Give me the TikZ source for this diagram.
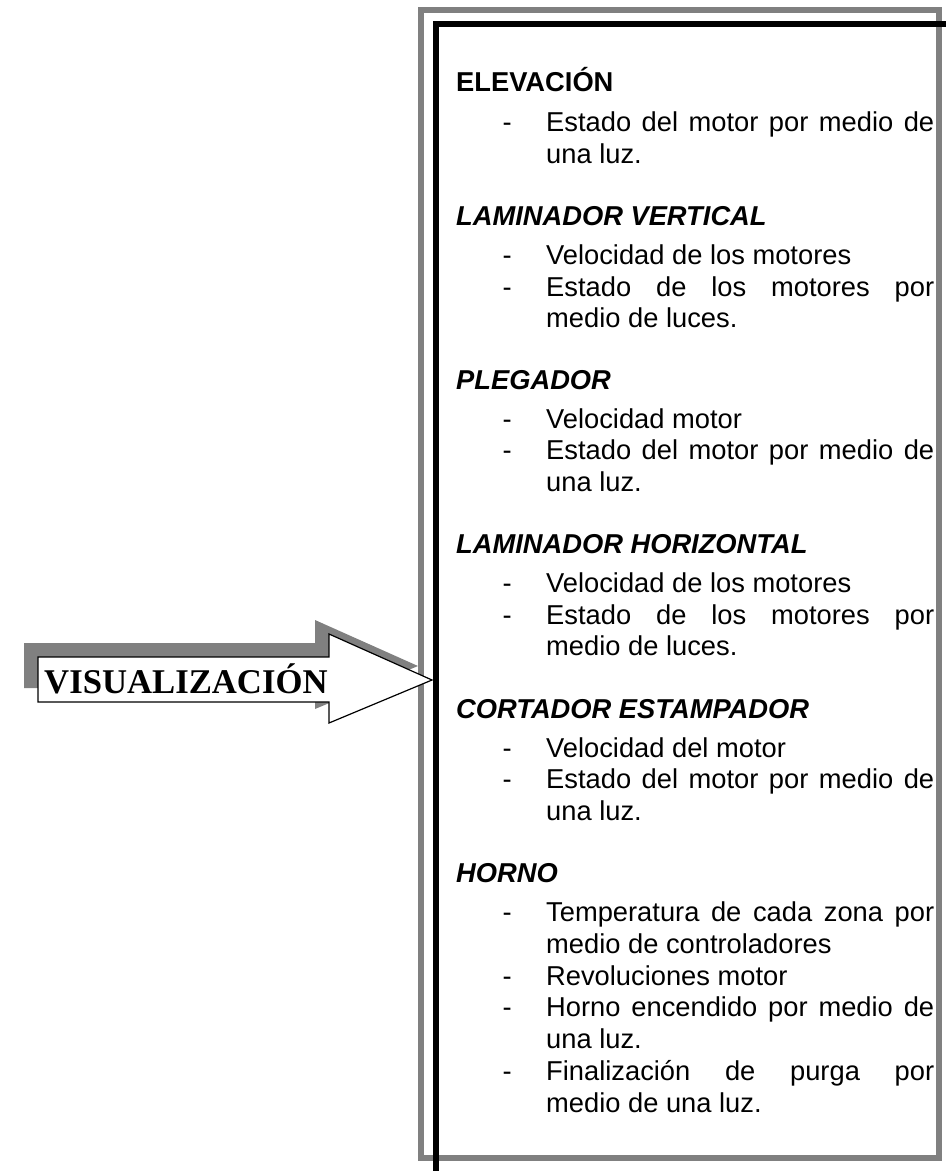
\documentclass[tikz,border=0pt]{standalone}
\usepackage{fontspec}
\setmainfont{Liberation Sans}
\newfontfamily\visfont{Liberation Serif}
\usetikzlibrary{positioning}

\tikzset{
  title/.style={anchor=base west, inner sep=0pt, font=\fontsize{27.3}{31.7}\selectfont\bfseries\itshape},
  txt/.style={anchor=base west, inner sep=0pt, font=\fontsize{27.3}{31.7}\selectfont},
  bullet/.style={txt, left=34pt of #1.base west, anchor=base east},
}
\newcommand{\justline}[1]{\makebox[388pt][s]{#1}}

\begin{document}
\begin{tikzpicture}[x=1pt,y=-1pt]
    \useasboundingbox (0,0) rectangle (946,1171);
    % frame
    \draw[color=gray, line width=5.5pt] (421,10) rectangle (939,1158);
    \draw[line width=5.5pt] (436,1171) -- (436,24) -- (946,24);
    % arrow with shadow
    \fill[gray] (24,643) -- (315,643) -- (315,620) -- (418,666) -- (315,709) -- (315,688) -- (24,688) -- cycle;
    \draw[fill=white, line width=1.2pt] (38,657) -- (329,657) -- (329,634) -- (432,680) -- (329,723) -- (329,702) -- (38,702) -- cycle;
    \node[anchor=base west, inner sep=0pt, font=\visfont\bfseries\fontsize{34.7}{34.7}\selectfont] (vis) at (44,693) {VISUALIZACIÓN};
    % ELEVACION
    \node[title, font=\fontsize{27.3}{31.7}\selectfont\bfseries] (elev) at (456,91.5) {ELEVACIÓN};
    \node[txt] (e1) at (546,131) {\justline{Estado del motor por medio de}};
    \node[txt] (e1b) at (546,163) {una luz.};
    % LAMINADOR VERTICAL
    \node[title] (lv) at (456,225) {LAMINADOR VERTICAL};
    \node[txt] (lv1) at (546,264) {Velocidad de los motores};
    \node[txt] (lv2) at (546,296) {\justline{Estado de los motores por}};
    \node[txt] (lv2b) at (546,327) {medio de luces.};
    % PLEGADOR
    \node[title] (pl) at (456,389) {PLEGADOR};
    \node[txt] (pl1) at (546,428) {Velocidad motor};
    \node[txt] (pl2) at (546,459) {\justline{Estado del motor por medio de}};
    \node[txt] (pl2b) at (546,491) {una luz.};
    % LAMINADOR HORIZONTAL
    \node[title] (lh) at (456,553) {LAMINADOR HORIZONTAL};
    \node[txt] (lh1) at (546,592) {Velocidad de los motores};
    \node[txt] (lh2) at (546,624) {\justline{Estado de los motores por}};
    \node[txt] (lh2b) at (546,655) {medio de luces.};
    % CORTADOR ESTAMPADOR
    \node[title] (ce) at (456,718) {CORTADOR ESTAMPADOR};
    \node[txt] (ce1) at (546,757) {Velocidad del motor};
    \node[txt] (ce2) at (546,788) {\justline{Estado del motor por medio de}};
    \node[txt] (ce2b) at (546,820) {una luz.};
    % HORNO
    \node[title] (ho) at (456,882) {HORNO};
    \node[txt] (ho1) at (546,921) {\justline{Temperatura de cada zona por}};
    \node[txt] (ho1b) at (546,953) {medio de controladores};
    \node[txt] (ho2) at (546,985) {Revoluciones motor};
    \node[txt] (ho3) at (546,1016) {\justline{Horno encendido por medio de}};
    \node[txt] (ho3b) at (546,1048) {una luz.};
    \node[txt] (ho4) at (546,1080) {\justline{Finalización de purga por}};
    \node[txt] (ho4b) at (546,1112) {medio de una luz.};
    % dashes
    \foreach \n in {e1,lv1,lv2,pl1,pl2,lh1,lh2,ce1,ce2,ho1,ho2,ho3,ho4}
      \node[bullet=\n] (d\n) {-};
\end{tikzpicture}
\end{document}
